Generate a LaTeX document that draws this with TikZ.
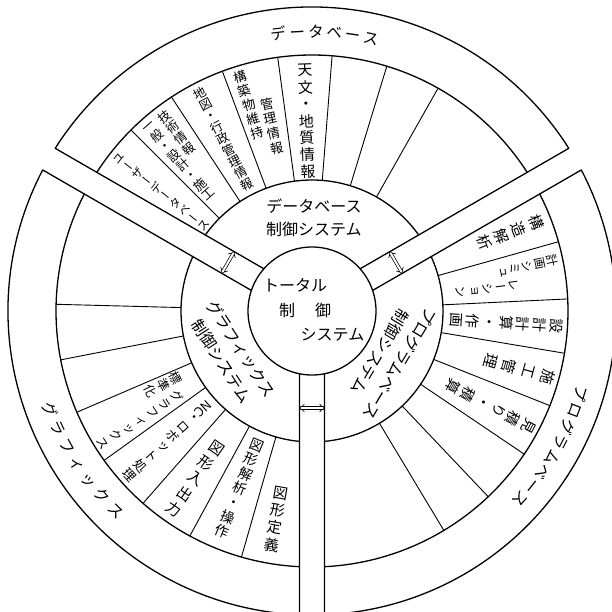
\documentclass[tikz,border=0pt]{standalone}
\usepackage{fontspec}
\usepackage{graphicx}
\usetikzlibrary{arrows.meta}
\newfontfamily\jp{Noto Sans CJK JP}
\newfontfamily\jpv{Noto Sans CJK JP}[RawFeature=+vert]
\newcommand\rIn{64}
\newcommand\rMid{131}
\newcommand\rCell{256}
\newcommand\rOut{304}
\newcommand\halfw{12.5}
% one column of a cell, tops outward, read inward
\newcommand\outcol[6]{%
  \foreach \ch [count=\k from 0] in {#6}
    \node[cellchar,font=\jpv\fontsize{#5}{#5}\selectfont,rotate=#2-90] (#1-\k) at (#2:{#3-\k*#4}) {\vphantom{国}\ch};}
% one column of a cell, tops inward, read outward
\newcommand\incol[6]{%
  \foreach \ch [count=\k from 0] in {#6}
    \node[cellchar,font=\jpv\fontsize{#5}{#5}\selectfont,rotate=#2+90] (#1-\k) at (#2:{#3+\k*#4}) {\vphantom{国}\ch};}
% label of the outer band, one character at a time along the arc
\newcommand\arclbl[6]{%
  \foreach \ch [count=\k from 0] in {#6}
    \node[bandchar,rotate={#2+\k*(#3)+(#5)}] (#1-\k) at ({#2+\k*(#3)}:#4) {\vphantom{国}\ch};}
\begin{document}
\begin{tikzpicture}[x=1pt,y=1pt,line cap=round,line join=round,
  ring/.style={line width=1.3pt},
  spoke/.style={line width=0.9pt},
  linkhead/.style={line width=0.7pt,{Straight Barb[length=4pt,width=8pt]}-{Straight Barb[length=4pt,width=8pt]}},
  linkshaft/.style={line width=0.7pt,double,double distance=2pt,shorten <=1.4pt,shorten >=1.4pt},
  cellchar/.style={inner sep=0pt,outer sep=0pt},
  bandchar/.style={inner sep=0pt,outer sep=0pt,font=\jp\fontsize{15.5}{15.5}\selectfont},
  midlbl/.style={inner sep=0pt,align=center,font=\jp\fontsize{16}{23}\selectfont},
  ctrlbl/.style={inner sep=0pt,font=\jp\fontsize{16}{16}\selectfont}]
  \useasboundingbox (-312,-301) rectangle (300,311);
  \clip (-312,-301) rectangle (300,311);
  % three sectors cut by the channels
  \foreach \b in {30,150,270}{
    \draw[ring] ({\b+asin(\halfw/\rIn)}:\rIn) -- ({\b+asin(\halfw/\rOut)}:\rOut)
      arc[start angle={\b+asin(\halfw/\rOut)},end angle={\b+120-asin(\halfw/\rOut)},radius=\rOut]
      -- ({\b+120-asin(\halfw/\rIn)}:\rIn);
    \draw[ring] ({\b+asin(\halfw/\rMid)}:\rMid)
      arc[start angle={\b+asin(\halfw/\rMid)},end angle={\b+120-asin(\halfw/\rMid)},radius=\rMid];
    \draw[ring] ({\b+asin(\halfw/\rCell)}:\rCell)
      arc[start angle={\b+asin(\halfw/\rCell)},end angle={\b+120-asin(\halfw/\rCell)},radius=\rCell];
  }
  \draw[ring] (0,0) circle (\rIn);
  \foreach \a in {135,123.3,110.5,97.7,85.5,73,60.5,
                  15.7,2.7,-9.5,-21.7,-34,-46.5,-59,
                  254,241.5,228.7,215.7,203.3,191,178.5}
    \draw[spoke] (\a:\rMid) -- (\a:\rCell);
  % arrows in the channels
  \coordinate (ulA) at ([shift={(150:97)}]60:12);
  \coordinate (ulB) at ([shift={(150:97)}]240:12);
  \coordinate (urA) at ([shift={(30:97)}]120:12);
  \coordinate (urB) at ([shift={(30:97)}]300:12);
  \coordinate (btA) at ([shift={(270:97)}]0:12);
  \coordinate (btB) at ([shift={(270:97)}]180:12);
  \foreach \p/\q in {ulA/ulB,urA/urB,btA/btB}{
    \draw[linkhead] (\p) -- (\q);
    \draw[linkshaft] (\p) -- (\q);
  }
  % centre
  \node[ctrlbl] (tot1) at (-17,26) {トータル};
  \node[ctrlbl] (tot2) at (-7,1) {制\hspace{1.25em}御};
  \node[ctrlbl] (tot3) at (20.5,-24) {システム};
  \node[midlbl] (dbctl) at (88.8:93.5) {データベース\\制御システム};
  \node[midlbl,rotate=-121] (pgctl) at (-31:91) {プログラムベース\\制御システム};
  \node[midlbl,rotate=-57] (gxctl) at (208.5:92) {グラフィックス\\制御システム};
  % outer band
  \arclbl{dbo}{96.8}{-3.8}{279}{-90}{デ,ー,タ,ベ,ー,ス}
  \arclbl{pgo}{-17.2}{-3.56}{281}{-90}{プ,ロ,グ,ラ,ム,ベ,ー,ス}
  \arclbl{gxo}{200.7}{4.13}{280}{90}{グ,ラ,フ,ィ,ッ,ク,ス}
  % database cells
  \outcol{user}{141.7}{246}{12}{11.5}{ユ,ー,ザ,ー,デ,ー,タ,ベ,ー,ス}
  \outcol{gen}{131.6}{247}{13}{12.5}{一,般,・,設,計,・,施,工}
  \outcol{tech}{127.2}{244}{13.5}{12.5}{技,術,情,報}
  \outcol{map}{117.3}{245}{12.8}{12.5}{地,図,・,行,政,管,理,情,報}
  \outcol{strc}{107}{245}{14.8}{13}{構,築,物,維,持}
  \outcol{mng}{102.3}{212}{15.2}{13}{管,理,情,報}
  \outcol{astro}{91.7}{241}{17}{15}{天,文,・,地,質,情,報}
  % program base cells
  \outcol{anl}{21.6}{241}{18.5}{15}{構,造,解,析}
  \outcol{sim}{11.8}{245}{12.5}{12}{計,画,シ,ミ,ュ}
  \outcol{simb}{7.3}{203}{13.2}{12}{レ,ー,シ,ョ,ン}
  \outcol{cad}{-3.6}{245}{16.8}{14.5}{設,計,計,算,・,作,画}
  \outcol{cons}{-15.6}{245}{20}{15}{施,工,管,理}
  \outcol{est}{-28}{245}{17}{14.5}{見,積,り,・,積,算}
  % graphics cells
  \incol{gdef}{260.3}{185}{17.4}{15}{図,形,定,義}
  \incol{gana}{247.8}{145}{15.5}{14}{図,形,解,析,・,操,作}
  \incol{gio}{235.2}{167}{18.6}{15}{図,形,入,出,力}
  \incol{ncr}{222}{141}{15}{13}{{\rotatebox{-90}{NC}}}
  \incol{ncs}{222}{158.5}{14.5}{13}{・,ロ,ボ,ッ,ト,処,理}
  \incol{std}{206.3}{152}{14}{12.5}{標,準,化}
  \incol{gfx}{212.4}{160}{14.6}{12.5}{グ,ラ,フ,ィ,ッ,ク,ス}
\end{tikzpicture}
\end{document}
